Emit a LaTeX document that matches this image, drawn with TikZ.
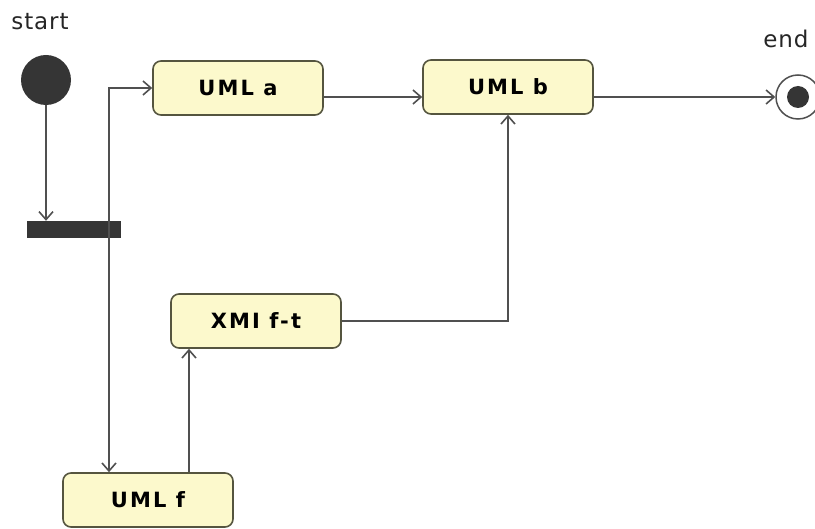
\documentclass[tikz,border=0pt]{standalone}
\usepackage{fontspec}
\setmainfont{DejaVu Sans}
\newfontfamily\labelfont[LetterSpace=10]{DejaVu Sans}
\newfontfamily\smallfont[LetterSpace=4]{DejaVu Sans}
\usetikzlibrary{arrows.meta}
\definecolor{boxfill}{HTML}{FCF9CC}
\definecolor{boxdraw}{HTML}{55553F}
\definecolor{linec}{HTML}{505050}
\definecolor{dotc}{HTML}{353535}
\begin{document}
\begin{tikzpicture}[x=1pt,y=-1pt,
  act/.style={draw=boxdraw, fill=boxfill, rounded corners=8pt, line width=1.6pt,
    minimum width=170pt, minimum height=54pt, inner sep=0pt,
    font=\labelfont\bfseries\fontsize{21}{24}\selectfont},
  flow/.style={draw=linec, line width=1.6pt, -{Straight Barb[length=8pt,width=14pt]}},
  lbl/.style={font=\smallfont\fontsize{23}{25}\selectfont, text=black!85, inner sep=0pt}]
\useasboundingbox (0,0) rectangle (815,529);
\node[act] (a) at (238,88) {UML a};
\node[act] (b) at (508,87) {UML b};
\node[act] (x) at (256,321) {XMI f-t};
\node[act] (f) at (148,500) {UML f};
\node[circle, fill=dotc, minimum size=50pt, inner sep=0pt] (s) at (46,80) {};
\node[fill=dotc, minimum width=94pt, minimum height=17pt, inner sep=0pt] (bar) at (74,229.5) {};
\node[circle, draw=linec, line width=1.5pt, fill=white, minimum size=44pt, inner sep=0pt] (e) at (798,97) {};
\node[circle, fill=dotc, minimum size=22pt, inner sep=0pt] (ei) at (e) {};
\node[lbl] (st) at (40,22) {start};
\node[lbl] (en) at (786,39) {end};
\coordinate (j) at (109,229.5);
\coordinate (u) at (189,0);
\draw[flow] (s.south) -- (s.south |- bar.north);
\draw[flow] (j) |- (a.west);
\draw[flow] (j) -- (j |- f.north);
\draw[flow] (a.east |- e) -- (b.west |- e);
\draw[flow] (b.east |- e) -- (e.west);
\draw[flow] (x.east) -| (b.south);
\draw[flow] (f.north -| u) -- (x.south -| u);
\end{tikzpicture}
\end{document}
